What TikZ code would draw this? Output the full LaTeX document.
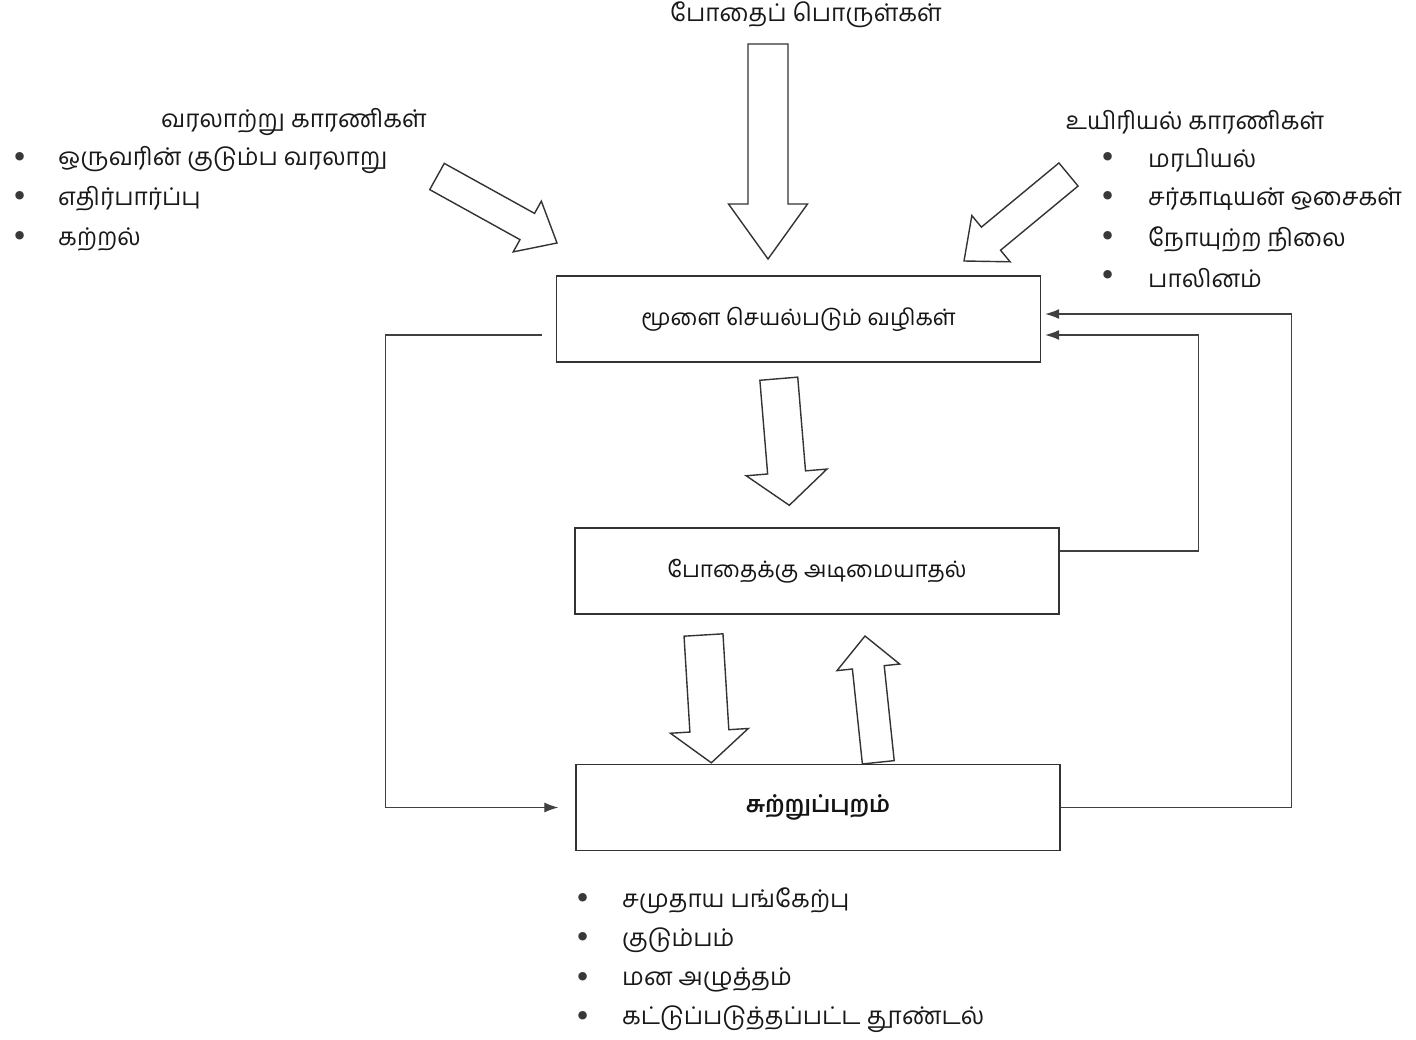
\documentclass[tikz,border=0pt]{standalone}
\usepackage{fontspec}
\newfontfamily\tamil[Script=Tamil]{Hind Madurai}
\newfontfamily\dejavu{DejaVu Sans}
\usetikzlibrary{calc,arrows.meta}
\newcommand{\barrow}[5]{% #1 tail, #2 tip, #3 shaft half width, #4 head half width, #5 head length
  \coordinate (ba-t) at (#1);
  \coordinate (ba-h) at ($(#2)!#5pt!(#1)$);
  \draw[blockarr] ($(ba-t)!#3pt!90:(ba-h)$) -- ($(ba-h)!#3pt!-90:(ba-t)$) -- ($(ba-h)!#4pt!-90:(ba-t)$)
     -- (#2) -- ($(ba-h)!#4pt!90:(ba-t)$) -- ($(ba-h)!#3pt!90:(ba-t)$) -- ($(ba-t)!#3pt!-90:(ba-h)$) -- cycle;
}
\begin{document}
\begin{tikzpicture}[x=1pt,y=-1pt,
  box/.style={draw=black!80, line width=1.4pt, minimum width=484pt, minimum height=86pt, inner sep=0pt,
    font=\tamil\fontsize{22.6}{26}\selectfont, text=black!92},
  lbl/.style={font=\tamil\fontsize{24.4}{28}\selectfont, inner sep=0pt, text=black!90},
  item/.style={lbl, anchor=west},
  bul/.style={font=\dejavu\fontsize{29}{32}\selectfont, inner sep=0pt, text=black!78},
  conn/.style={draw=black!75, line width=1.1pt},
  tip/.style={-{Latex[length=14pt,width=10pt]}},
  blockarr/.style={draw=black!80, line width=1.4pt, fill=white, line join=miter}
]
\useasboundingbox (0,0) rectangle (1416,1039);

% boxes
\node[box] (brain) at (798.5,319) {மூளை செயல்படும் வழிகள்};
\node[box] (addict) at (817,571) {போதைக்கு அடிமையாதல்};
\node[box] (env) at (818,807.5) {\fontsize{23}{26}\selectfont\bfseries சுற்றுப்புறம்};

% headings
\node[lbl] (drugs) at (806,15) {போதைப் பொருள்கள்};
\node[lbl] (hist) at (294,122) {வரலாற்று காரணிகள்};
\node[lbl] (bio) at (1195,122) {உயிரியல் காரணிகள்};

% left list
\node[bul] (lb1) at (20,160) {•}; \node[item] (li1) at (58,160) {ஒருவரின் குடும்ப வரலாறு};
\node[bul] (lb2) at (20,199) {•}; \node[item] (li2) at (58,199) {எதிர்பார்ப்பு};
\node[bul] (lb3) at (20,239) {•}; \node[item] (li3) at (58,239) {கற்றல்};

% right list
\node[bul] (rb1) at (1108,160) {•}; \node[item] (ri1) at (1148,160) {மரபியல்};
\node[bul] (rb2) at (1108,199) {•}; \node[item] (ri2) at (1148,199) {சர்காடியன் ஒசைகள்};
\node[bul] (rb3) at (1108,239) {•}; \node[item] (ri3) at (1148,239) {நோயுற்ற நிலை};
\node[bul] (rb4) at (1108,278) {•}; \node[item] (ri4) at (1148,278) {பாலினம்};

% bottom list
\node[bul] (bb1) at (583,901) {•}; \node[item] (bi1) at (622,901) {சமுதாய பங்கேற்பு};
\node[bul] (bb2) at (583,940) {•}; \node[item] (bi2) at (622,940) {குடும்பம்};
\node[bul] (bb3) at (583,980) {•}; \node[item] (bi3) at (622,980) {மன அழுத்தம்};
\node[bul] (bb4) at (583,1019) {•}; \node[item] (bi4) at (622,1019) {கட்டுப்படுத்தப்பட்ட தூண்டல்};

% block arrows
\coordinate (a1t) at (768,44);     \coordinate (a1h) at (768,259);
\coordinate (a2t) at (437,176.5);  \coordinate (a2h) at (557,243);
\coordinate (a3t) at (1068.5,174.5); \coordinate (a3h) at (964,261);
\coordinate (a4t) at ($(brain.south west)+(223,16)$); \coordinate (a4h) at ($(addict.north west)+(215,-22)$);
\coordinate (a5t) at (703.5,635);  \coordinate (a5h) at ($(env.north west)+(136,-1)$);
\coordinate (a6t) at ($(env.north west)+(303,-1.5)$); \coordinate (a6h) at (865,636);
\barrow{a1t}{a1h}{20}{39.5}{55}
\barrow{a2t}{a2h}{15}{29}{34}
\barrow{a3t}{a3h}{15}{30}{35}
\barrow{a4t}{a4h}{19}{40.5}{33}
\barrow{a5t}{a5h}{19.5}{39}{32}
\barrow{a6t}{a6h}{16}{31.5}{31.5}

% feedback connectors
\draw[conn,tip] ([shift={(-14,16)}]brain.west) -- ++(-156,0) |- ([xshift=-17pt]env.west);
\draw[conn,tip] (env.east) -- ++(231,0) |- ([shift={(4,-5)}]brain.east);
\draw[conn,tip] ([shift={(0,-20)}]addict.east) -- ++(139,0) |- ([shift={(4,16)}]brain.east);
\end{tikzpicture}
\end{document}
